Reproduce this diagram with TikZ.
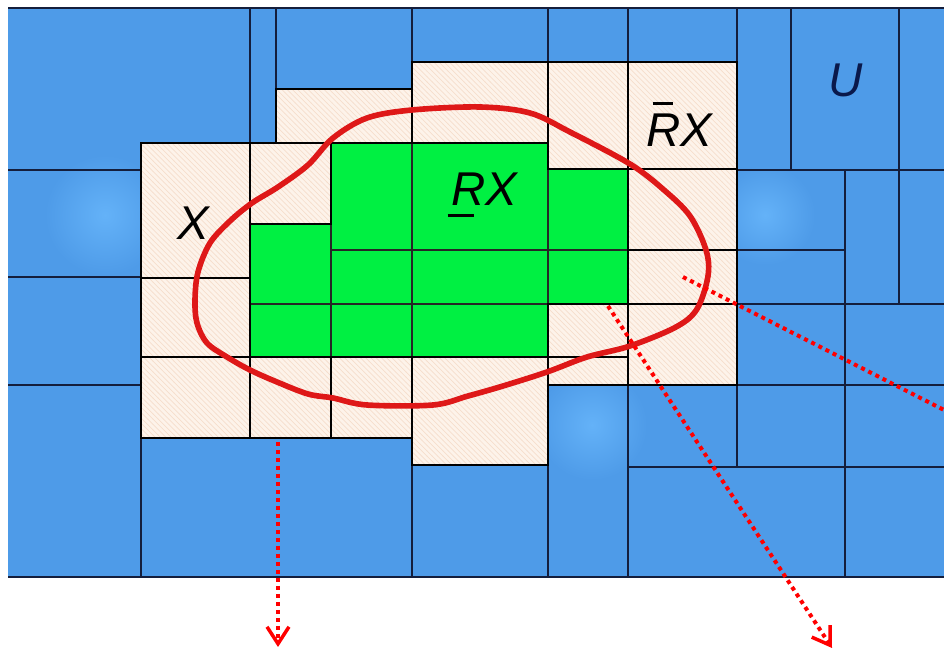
\documentclass[tikz,border=0pt]{standalone}
\usepackage{fontspec}
\setmainfont{Liberation Sans}
\usepackage{tikz}
\usetikzlibrary{arrows.meta, patterns}
\definecolor{cBlue}{RGB}{78,155,232}
\definecolor{cGlow}{RGB}{100,178,248}
\definecolor{cGrid}{RGB}{20,30,60}
\definecolor{cCream}{RGB}{253,243,234}
\definecolor{cHatch}{RGB}{246,222,204}
\definecolor{cGreen}{RGB}{0,240,66}
\definecolor{cLoop}{RGB}{222,24,24}
\definecolor{cNavy}{RGB}{10,25,75}
\tikzset{
	gridline/.style={draw=cGrid, line width=1pt},
	creamcell/.style={preaction={fill=cCream}, pattern=north west lines, pattern color=cHatch, draw=black, line width=0.9pt},
	greencell/.style={fill=cGreen, draw=black!85, line width=0.9pt},
	rim/.style={draw=black, line width=1.6pt, line join=miter},
	rloop/.style={draw=cLoop, line width=3.2pt, line join=round},
	reddots/.style={draw=red, line width=0.8mm, dash pattern=on 0.8mm off 0.8mm, -{Straight Barb[length=3.4mm, width=4.4mm, line width=0.7mm]}},
	% set names
	setlabel/.style={font=\fontsize{27}{30}\selectfont\itshape, inner sep=0pt},
}
\newcommand{\lowbarR}{\makebox[0pt][l]{\hspace{-0.07em}\rule[-0.24em]{0.56em}{0.07em}}R}
\newcommand{\topbarR}{\makebox[0pt][l]{\hspace{0.14em}\rule[0.86em]{0.42em}{0.07em}}R}

\begin{document}
\begin{tikzpicture}[x=0.02cm, y=-0.02cm]
	\useasboundingbox (0,0) rectangle (944,651);
	% universe U
	\fill[cBlue] (8,8) rectangle (944,577);
	\foreach \gx/\gy/\gr in {105/215/60, 765/215/50, 592/425/55} {
		\shade[inner color=cGlow, outer color=cBlue] (\gx,\gy) circle[radius=\gr];
	}
	\draw[gridline] (8,8) -- (944,8);
	\draw[gridline] (8,577) -- (944,577);
	\foreach \xa/\ya/\xb/\yb in {8/170/141/170, 8/277/141/277, 8/385/141/385, 737/170/944/170, 737/250/845/250, 737/304/944/304, 737/385/944/385, 628/467/944/467,
		250/8/250/143, 276/8/276/89, 412/8/412/62, 548/8/548/62, 628/8/628/62, 737/8/737/62, 791/8/791/170, 899/8/899/304, 845/170/845/577,
		141/438/141/577, 412/465/412/577, 548/385/548/577, 628/385/628/577, 737/385/737/467} {
		\draw[gridline] (\xa,\ya) -- (\xb,\yb);
	}
	% upper approximation
	\foreach \xa/\ya/\xb/\yb in {141/143/250/278, 141/278/250/357, 141/357/250/438, 250/143/331/224, 250/357/331/438, 276/89/412/143, 331/357/412/438, 412/62/548/143,
		412/357/548/465, 548/62/628/169, 548/304/628/357, 548/357/628/385, 628/62/737/169, 628/169/737/250, 628/250/737/304, 628/304/737/385} {
		\draw[creamcell] (\xa,\ya) rectangle (\xb,\yb);
	}
	% lower approximation
	\foreach \xa/\ya/\xb/\yb in {250/224/331/304, 250/304/331/357, 331/143/412/250, 331/250/412/304, 331/304/412/357, 412/143/548/250, 412/250/548/304, 412/304/548/357,
		548/169/628/250, 548/250/628/304} {
		\draw[greencell] (\xa,\ya) rectangle (\xb,\yb);
	}
	\draw[rim] (141,143) -- (276,143) -- (276,89) -- (412,89) -- (412,62) -- (737,62) -- (737,385) -- (548,385) -- (548,465) -- (412,465) -- (412,438) -- (141,438) -- cycle;
	\draw[rim] (250,224) -- (331,224) -- (331,143) -- (548,143) -- (548,169) -- (628,169) -- (628,304) -- (548,304) -- (548,357) -- (250,357) -- cycle;
	% the set X
	\draw[rloop] plot[smooth cycle, tension=0.55] coordinates {(195,300) (198,272) (210,243) (230,221) (252,203) (278,187) (308,165) (333,138) (367,118) (412,110) (480,107) (530,113)
		(570,132) (630,164) (664,190) (690,216) (706,250) (708,276) (697,309) (676,327) (630,346) (587,357) (547,372) (503,386) (468,396) (433,405) (367,405)
		(333,398) (308,394) (277,382) (250,370) (227,357) (207,343) (197,323)};
	\node[setlabel] (lx) at (193,223) {X};
	\node[setlabel] (lrx) at (484,195) {\lowbarR X};
	\node[setlabel] (lbrx) at (679,124) {\topbarR X};
	\node[setlabel, text=cNavy] (lu) at (846,80) {U};
	% pointers
	\coordinate (p1) at (278,442);
	\coordinate (q1) at (278,647);
	\coordinate (p2) at (608,306);
	\coordinate (q2) at (832,648);
	\coordinate (p3) at (683,277);
	\coordinate (q3) at (944,410);
	\draw[reddots] (p1) -- (q1);
	\draw[reddots] (p2) -- (q2);
	\draw[reddots, -] (p3) -- (q3);
\end{tikzpicture}
\end{document}
